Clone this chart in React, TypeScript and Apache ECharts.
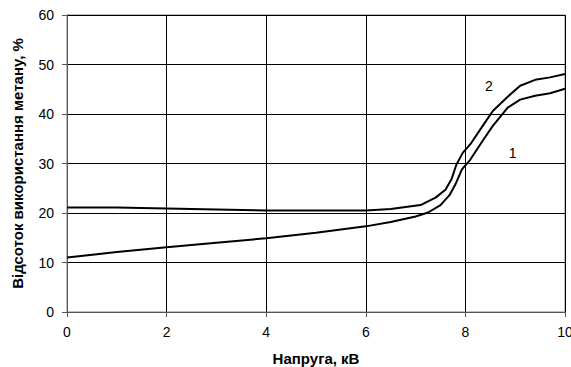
import React, { useEffect, useRef } from "react";
import * as echarts from "echarts";

const curve1X = [0, 1, 2, 3, 4, 5, 6, 6.5, 7, 7.25, 7.5, 7.68, 7.8, 7.93, 8.1, 8.3, 8.55, 8.85, 9.1, 9.4, 9.7, 10];
const curve1Y = [11.0, 12.1, 13.1, 14.0, 14.9, 16.0, 17.3, 18.2, 19.3, 20.1, 21.6, 23.6, 25.8, 28.8, 30.8, 33.9, 37.6, 41.3, 42.9, 43.7, 44.2, 45.1];
const curve2X = [0, 1, 2, 3, 4, 5, 6, 6.5, 7.1, 7.4, 7.6, 7.72, 7.82, 7.95, 8.1, 8.3, 8.55, 8.85, 9.1, 9.4, 9.7, 10];
const curve2Y = [21.1, 21.1, 20.9, 20.7, 20.5, 20.5, 20.5, 20.8, 21.6, 23.1, 24.7, 26.8, 29.8, 32.2, 33.9, 36.9, 40.6, 43.5, 45.7, 46.9, 47.4, 48.1];
const curveLabels = ["1", "2"];
const labelPos1: [number, number] = [8.95, 32.2];
const labelPos2: [number, number] = [8.47, 45.7];

const FONT = "'Liberation Sans', Arial, sans-serif";

export default function App() {
  const ref = useRef<HTMLDivElement>(null);
  useEffect(() => {
    document.body.style.margin = "0";
    document.body.style.overflow = "hidden";
    if (!ref.current) return;
    const chart = echarts.init(ref.current, null, { renderer: "svg" });
    const mk = (xs: number[], ys: number[]) => xs.map((x, i) => [x, ys[i]]);
    const lbl = (text: string, coord: [number, number]) => ({
      symbol: "circle",
      symbolSize: 1,
      itemStyle: { color: "rgba(0,0,0,0)" },
      data: [
        {
          coord,
          label: {
            show: true,
            formatter: text,
            position: "inside",
            color: "#000",
            fontSize: 14,
            fontFamily: FONT,
          },
        },
      ],
    });
    chart.setOption({
      animation: false,
      backgroundColor: "#fff",
      grid: {
        left: 67,
        right: 6,
        top: 15,
        bottom: 55,
        outerBoundsMode: "none",
        containLabel: false,
        show: true,
        borderColor: "#808080",
        borderWidth: 1,
      },
      xAxis: {
        type: "value",
        min: 0,
        max: 10,
        interval: 2,
        name: "Напруга, кВ",
        nameLocation: "middle",
        nameGap: 39,
        nameTextStyle: { fontFamily: FONT, fontSize: 15, fontWeight: "bold", color: "#000" },
        axisLine: { show: true, lineStyle: { color: "#555", width: 1 } },
        axisTick: { show: true, length: 5, lineStyle: { color: "#555" } },
        axisLabel: { fontFamily: FONT, fontSize: 14, color: "#000", margin: 13 },
        splitLine: { show: true, lineStyle: { color: "#000", width: 1 } },
      },
      yAxis: {
        type: "value",
        min: 0,
        max: 60,
        interval: 10,
        name: "Відсоток використання метану, %",
        nameLocation: "middle",
        nameGap: 42,
        nameTextStyle: { fontFamily: FONT, fontSize: 15, fontWeight: "bold", color: "#000" },
        axisLine: { show: true, lineStyle: { color: "#555", width: 1 } },
        axisTick: { show: true, length: 5, lineStyle: { color: "#555" } },
        axisLabel: { fontFamily: FONT, fontSize: 14, color: "#000", margin: 13 },
        splitLine: { show: true, lineStyle: { color: "#000", width: 1 } },
      },
      series: [
        {
          type: "line",
          name: curveLabels[0],
          data: mk(curve1X, curve1Y),
          showSymbol: false,
          symbol: "none",
          lineStyle: { color: "#000", width: 2 },
          markPoint: lbl(curveLabels[0], labelPos1),
        },
        {
          type: "line",
          name: curveLabels[1],
          data: mk(curve2X, curve2Y),
          showSymbol: false,
          symbol: "none",
          lineStyle: { color: "#000", width: 2 },
          markPoint: lbl(curveLabels[1], labelPos2),
        },
      ],
    });
    return () => chart.dispose();
  }, []);
  return <div ref={ref} style={{ width: 571, height: 367, background: "#fff" }} />;
}
